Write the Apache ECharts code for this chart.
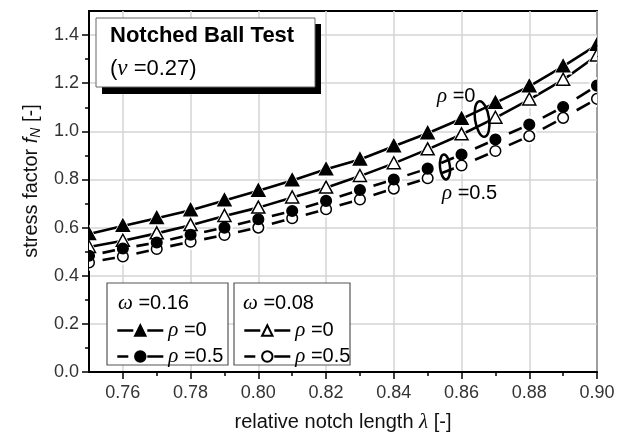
<!DOCTYPE html>
<html>
<head>
<meta charset="utf-8">
<script src="https://cdn.jsdelivr.net/npm/echarts@6/dist/echarts.min.js"></script>
<style>
  html, body { margin: 0; padding: 0; background: #fff; }
  #chart { width: 629px; height: 438px; }
</style>
</head>
<body>
<div id="chart"></div>
<script>
// relative notch length (lambda)
const lambda = [0.75, 0.76, 0.77, 0.78, 0.79, 0.80, 0.81, 0.82, 0.83, 0.84, 0.85, 0.86, 0.87, 0.88, 0.89, 0.90];

// stress factor f_N for each (omega, rho) combination
const w16r0 = [0.573, 0.607, 0.639, 0.672, 0.713, 0.753, 0.796, 0.842, 0.883, 0.938, 0.992, 1.052, 1.118, 1.187, 1.270, 1.359];
const w08r0 = [0.519, 0.545, 0.576, 0.610, 0.648, 0.683, 0.725, 0.766, 0.814, 0.867, 0.925, 0.987, 1.056, 1.132, 1.214, 1.315];
const w16r5 = [0.483, 0.513, 0.538, 0.570, 0.600, 0.635, 0.669, 0.711, 0.756, 0.800, 0.845, 0.904, 0.966, 1.028, 1.101, 1.190];
const w08r5 = [0.455, 0.480, 0.511, 0.541, 0.569, 0.600, 0.639, 0.676, 0.717, 0.762, 0.805, 0.858, 0.918, 0.980, 1.056, 1.135];

// axis ticks
const xMajorTicks = [0.76, 0.78, 0.80, 0.82, 0.84, 0.86, 0.88, 0.90];
const xMinorTicks = [0.77, 0.79, 0.81, 0.83, 0.85, 0.87, 0.89];
const yMajorTicks = [0.0, 0.2, 0.4, 0.6, 0.8, 1.0, 1.2, 1.4];
const yMinorTicks = [0.1, 0.3, 0.5, 0.7, 0.9, 1.1, 1.3];

const SANS = 'Liberation Sans, Arial, sans-serif';
const GREEK = 'Liberation Serif, DejaVu Serif, serif';
const LINE_W = 2.6;

// series definitions: drawing order = marker stacking order
const groups = [
  { key: 'w08r0', label: '{g|ρ} =0',   values: w08r0, shape: 'triangle', fill: '#fff', dashed: false },
  { key: 'w16r0', label: '{g|ρ} =0',   values: w16r0, shape: 'triangle', fill: '#000', dashed: false },
  { key: 'w08r5', label: '{g|ρ} =0.5', values: w08r5, shape: 'circle',   fill: '#fff', dashed: true },
  { key: 'w16r5', label: '{g|ρ} =0.5', values: w16r5, shape: 'circle',   fill: '#000', dashed: true }
];
const labelOf = {};
groups.forEach(g => { labelOf[g.key] = g.label; });

const TRI_W = 13, TRI_H = 12, CIRC_R = 5.3, HALO = 3;
// dashed curves: each segment is drawn only from this fraction of the way to the next point
const DASH_START = 0.4;

function markerShape(shape, p, pad, fill, stroke, lw) {
  if (shape === 'triangle') {
    const w = TRI_W + pad * 2, h = TRI_H + pad * 2;
    return {
      type: 'polygon',
      shape: { points: [[p[0], p[1] - h * 0.55], [p[0] + w / 2, p[1] + h * 0.45], [p[0] - w / 2, p[1] + h * 0.45]] },
      style: { fill: fill, stroke: stroke, lineWidth: lw }
    };
  }
  return {
    type: 'circle',
    shape: { cx: p[0], cy: p[1], r: CIRC_R + pad },
    style: { fill: fill, stroke: stroke, lineWidth: lw }
  };
}

const series = [];

// solid curves (and legend entries for all four)
groups.forEach(g => {
  series.push({
    name: g.key,
    type: 'line',
    data: lambda.map((x, i) => [x, g.values[i]]),
    symbol: g.shape,
    showSymbol: false,
    itemStyle: { color: g.fill, borderColor: '#000', borderWidth: 1.5 },
    lineStyle: { color: '#000', width: LINE_W, opacity: g.dashed ? 0 : 1 },
    emphasis: { disabled: true },
    silent: true,
    animation: false,
    z: 2
  });
});

// dashed curves: one dash per interval, ending at the next point
groups.filter(g => g.dashed).forEach(g => {
  series.push({
    name: g.key + '_dash',
    type: 'custom',
    clip: true,
    silent: true,
    animation: false,
    data: lambda.map((x, i) => i === 0 ? [x, g.values[i], x, g.values[i]] : [x, g.values[i], lambda[i - 1], g.values[i - 1]]),
    renderItem: function (params, api) {
      if (params.dataIndex === 0) return null;
      const p2 = api.coord([api.value(0), api.value(1)]);
      const p1 = api.coord([api.value(2), api.value(3)]);
      return {
        type: 'line',
        shape: {
          x1: p1[0] + (p2[0] - p1[0]) * DASH_START,
          y1: p1[1] + (p2[1] - p1[1]) * DASH_START,
          x2: p2[0], y2: p2[1]
        },
        style: { stroke: '#000', lineWidth: LINE_W }
      };
    },
    z: 2
  });
});

// white halos that open small gaps in the lines around each marker
const haloData = [];
groups.forEach((g, gi) => lambda.forEach((x, i) => haloData.push([x, g.values[i], gi])));
series.push({
  name: 'halo',
  type: 'custom',
  clip: true,
  silent: true,
  animation: false,
  data: haloData,
  renderItem: function (params, api) {
    const p = api.coord([api.value(0), api.value(1)]);
    const g = groups[api.value(2)];
    return markerShape(g.shape, p, HALO, '#fff', null, 0);
  },
  z: 3
});

// markers
groups.forEach(g => {
  series.push({
    name: g.key + '_marker',
    type: 'custom',
    clip: true,
    silent: true,
    animation: false,
    data: lambda.map((x, i) => [x, g.values[i]]),
    renderItem: function (params, api) {
      const p = api.coord([api.value(0), api.value(1)]);
      return markerShape(g.shape, p, 0, g.fill, '#000', 1.5);
    },
    z: 4
  });
});

const solidIcon = { color: '#000', width: LINE_W, opacity: 1, type: [16, 14] };
const dashIcon = { color: '#000', width: LINE_W, opacity: 1, type: [11, 19, 16, 10] };

const legendCommon = {
  orient: 'vertical',
  itemWidth: 46,
  itemHeight: 13,
  itemGap: 5,
  padding: 0,
  selectedMode: false,
  z: 12,
  formatter: name => labelOf[name],
  textStyle: {
    fontFamily: SANS, fontSize: 20, color: '#000',
    rich: { g: { fontFamily: GREEK, fontStyle: 'italic', fontSize: 21, color: '#000' } }
  }
};

const option = {
  backgroundColor: '#fff',
  animation: false,
  grid: {
    left: 89, right: 32, top: 11, bottom: 65,
    show: true, borderColor: '#000', borderWidth: 2, backgroundColor: 'transparent'
  },
  xAxis: [
    {
      type: 'value', min: 0.75, max: 0.90, position: 'bottom',
      name: 'relative notch length {i|λ} [-]',
      nameLocation: 'middle', nameGap: 40,
      nameTextStyle: {
        fontFamily: SANS, fontSize: 20, color: '#111',
        rich: { i: { fontFamily: GREEK, fontStyle: 'italic', fontSize: 21, color: '#111' } }
      },
      axisLine: { show: true, lineStyle: { color: '#000', width: 2 } },
      axisTick: { show: true, customValues: xMajorTicks, length: 7, lineStyle: { color: '#000', width: 1.5 } },
      axisLabel: {
        customValues: xMajorTicks, margin: 12,
        formatter: v => v.toFixed(2),
        fontFamily: SANS, fontSize: 18, color: '#333'
      },
      splitLine: { show: true, lineStyle: { color: '#d4d4d4', width: 1.5 } }
    },
    {
      type: 'value', min: 0.75, max: 0.90, position: 'bottom',
      axisLine: { show: false },
      axisTick: { show: true, customValues: xMinorTicks, length: 4, lineStyle: { color: '#000', width: 1.5 } },
      axisLabel: { show: false },
      splitLine: { show: false }
    }
  ],
  yAxis: [
    {
      type: 'value', min: 0, max: 1.5, position: 'left',
      name: 'stress factor {i|f}{s|N} [-]',
      nameLocation: 'middle', nameGap: 46,
      nameTextStyle: {
        fontFamily: SANS, fontSize: 20, color: '#111', padding: [0, 0, 0, 21],
        rich: {
          i: { fontFamily: SANS, fontStyle: 'italic', fontSize: 20, color: '#111' },
          s: { fontFamily: SANS, fontStyle: 'italic', fontSize: 14, color: '#111', padding: [9, 0, 0, 0] }
        }
      },
      axisLine: { show: true, lineStyle: { color: '#000', width: 2 } },
      axisTick: { show: true, customValues: yMajorTicks, length: 7, lineStyle: { color: '#000', width: 1.5 } },
      axisLabel: {
        customValues: yMajorTicks, margin: 10,
        formatter: v => v.toFixed(1),
        fontFamily: SANS, fontSize: 18, color: '#333'
      },
      splitLine: { show: true, lineStyle: { color: '#d4d4d4', width: 1.5 } }
    },
    {
      type: 'value', min: 0, max: 1.5, position: 'left',
      axisLine: { show: false },
      axisTick: { show: true, customValues: yMinorTicks, length: 4, lineStyle: { color: '#000', width: 1.5 } },
      axisLabel: { show: false },
      splitLine: { show: false }
    }
  ],
  legend: [
    Object.assign({}, legendCommon, { left: 116, top: 320, data: [
      { name: 'w16r0', lineStyle: solidIcon },
      { name: 'w16r5', lineStyle: dashIcon }
    ] }),
    Object.assign({}, legendCommon, { left: 243, top: 320, data: [
      { name: 'w08r0', lineStyle: solidIcon },
      { name: 'w08r5', lineStyle: dashIcon }
    ] })
  ],
  graphic: [
    // title box with drop shadow
    { type: 'rect', z: 20, shape: { x: 102, y: 24, width: 219, height: 70 }, style: { fill: '#000' } },
    { type: 'rect', z: 21, shape: { x: 96, y: 18, width: 219, height: 69 }, style: { fill: '#fff', stroke: '#666', lineWidth: 1 } },
    { type: 'text', z: 22, x: 110, y: 25, style: { text: 'Notched Ball Test', fontFamily: SANS, fontWeight: 'bold', fontSize: 22, fill: '#000' } },
    { type: 'text', z: 22, x: 110, y: 57, style: {
        text: '({g|ν} =0.27)', fontFamily: SANS, fontSize: 22, fill: '#000',
        rich: { g: { fontFamily: GREEK, fontStyle: 'italic', fontSize: 23, fill: '#000' } }
    } },

    // legend frames and their headings
    { type: 'rect', z: 10, shape: { x: 107, y: 283, width: 121, height: 82 }, style: { fill: '#fff', stroke: '#555', lineWidth: 1.2 } },
    { type: 'rect', z: 10, shape: { x: 234, y: 283, width: 116, height: 82 }, style: { fill: '#fff', stroke: '#555', lineWidth: 1.2 } },
    { type: 'text', z: 11, x: 118, y: 293, style: {
        text: '{g|ω} =0.16', fontFamily: SANS, fontSize: 20, fill: '#000',
        rich: { g: { fontFamily: GREEK, fontStyle: 'italic', fontSize: 21, fill: '#000' } }
    } },
    { type: 'text', z: 11, x: 243, y: 293, style: {
        text: '{g|ω} =0.08', fontFamily: SANS, fontSize: 20, fill: '#000',
        rich: { g: { fontFamily: GREEK, fontStyle: 'italic', fontSize: 21, fill: '#000' } }
    } },

    // curve group annotations
    { type: 'text', z: 11, x: 437, y: 86, style: {
        text: '{g|ρ} =0', fontFamily: SANS, fontSize: 20, fill: '#000',
        rich: { g: { fontFamily: GREEK, fontStyle: 'italic', fontSize: 21, fill: '#000' } }
    } },
    { type: 'text', z: 11, x: 442, y: 183, style: {
        text: '{g|ρ} =0.5', fontFamily: SANS, fontSize: 20, fill: '#000',
        rich: { g: { fontFamily: GREEK, fontStyle: 'italic', fontSize: 21, fill: '#000' } }
    } },
    { type: 'ellipse', z: 11, x: 482, y: 119, rotation: 0.15,
      shape: { cx: 0, cy: 0, rx: 7, ry: 18 }, style: { fill: 'none', stroke: '#000', lineWidth: 2.5 } },
    { type: 'ellipse', z: 11, x: 445, y: 167, rotation: 0.1,
      shape: { cx: 0, cy: 0, rx: 5, ry: 12.5 }, style: { fill: 'none', stroke: '#000', lineWidth: 2.5 } }
  ],
  series: series
};

const chart = echarts.init(document.getElementById('chart'), null, { renderer: 'canvas' });
chart.setOption(option);
</script>
</body>
</html>
